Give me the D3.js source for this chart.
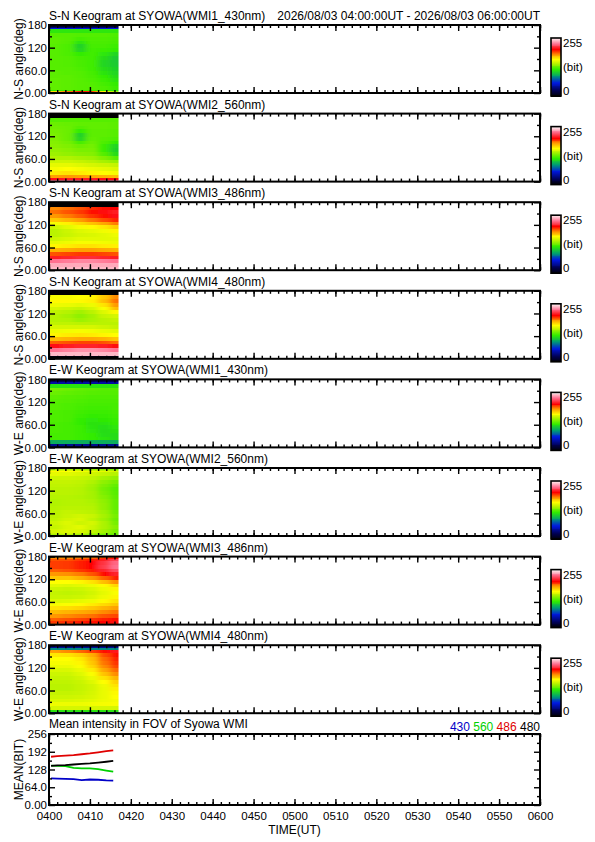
<!DOCTYPE html>
<html><head><meta charset="utf-8">
<script src="https://cdn.jsdelivr.net/npm/d3@7"></script>
<style>
body{margin:0;background:#fff}
svg text{font-family:"Liberation Sans",Arial,Helvetica,sans-serif;fill:#000}
</style>
</head><body>
<svg id="chart" width="595" height="842"></svg>
<script>
// ---------------- DATA ----------------
const panelTitles = [
  "S-N Keogram at SYOWA(WMI1_430nm)",
  "S-N Keogram at SYOWA(WMI2_560nm)",
  "S-N Keogram at SYOWA(WMI3_486nm)",
  "S-N Keogram at SYOWA(WMI4_480nm)",
  "E-W Keogram at SYOWA(WMI1_430nm)",
  "E-W Keogram at SYOWA(WMI2_560nm)",
  "E-W Keogram at SYOWA(WMI3_486nm)",
  "E-W Keogram at SYOWA(WMI4_480nm)"
];
const periodLabel = "2026/08/03 04:00:00UT - 2026/08/03 06:00:00UT";
const angleTitles = ["N-S angle(deg)","N-S angle(deg)","N-S angle(deg)","N-S angle(deg)",
                     "W-E angle(deg)","W-E angle(deg)","W-E angle(deg)","W-E angle(deg)"];
// angle bin edges (deg), bottom to top
const angleEdges = [0,3,6,10,20,30,40,50,60,70,80,90,100,110,120,130,140,150,160,170,174,177,180];
// time bin edges, minutes after 04:00 UT
const timeEdges = [0,3,6,9,12,15,17];
const angleTicks = [0,60,120,180];
const angleTickLabels = ["0.00","60.0","120","180"];
const angleMinorTicks = [30,90,150];
const colorbarLabels = ["255","(bit)","0"];

// keogram intensities (bit), rows = angle bins (bottom->top), cols = time bins
const kSN430 = [
  [15,15,15,15,15,15],
  [170,190,205,200,165,140],
  [118,120,120,120,118,115],
  [128,127,126,125,124,120],
  [128,127,126,125,122,118],
  [128,127,126,124,120,115],
  [127,127,125,123,118,112],
  [127,126,125,122,115,110],
  [126,126,124,121,112,108],
  [126,125,123,121,110,106],
  [126,125,123,121,110,105],
  [126,125,122,121,112,106],
  [126,124,118,121,116,110],
  [126,124,110,121,120,118],
  [126,124,108,122,122,120],
  [127,125,115,123,123,122],
  [127,126,122,124,124,123],
  [126,126,125,125,125,124],
  [116,116,116,116,116,116],
  [60,60,60,60,60,60],
  [30,30,30,30,30,30],
  [15,15,15,15,15,15]
];
const kSN560 = [
  [245,245,245,245,245,245],
  [232,232,232,232,232,232],
  [210,212,212,212,210,208],
  [182,184,182,180,178,176],
  [166,168,166,164,162,160],
  [160,162,160,158,156,154],
  [156,156,154,152,150,148],
  [150,150,148,146,142,138],
  [144,144,142,140,134,126],
  [140,138,136,135,125,112],
  [138,136,133,133,120,108],
  [136,134,130,132,120,110],
  [135,132,122,130,124,118],
  [134,130,110,128,126,124],
  [133,130,108,127,127,126],
  [132,130,118,127,127,126],
  [131,130,125,128,128,127],
  [130,129,128,128,128,127],
  [126,126,126,126,126,126],
  [0,0,0,0,0,0],
  [0,0,0,0,0,0],
  [0,0,0,0,0,0]
];
const kSN486 = [
  [250,250,250,250,250,250],
  [248,248,248,248,248,248],
  [245,245,245,245,245,245],
  [242,242,242,242,242,242],
  [232,234,236,236,234,232],
  [212,214,216,216,214,212],
  [194,196,198,198,196,194],
  [178,180,182,182,180,178],
  [164,166,168,168,166,165],
  [156,158,160,160,159,158],
  [150,153,155,155,155,156],
  [146,149,152,153,155,158],
  [146,150,154,156,159,164],
  [150,155,160,163,167,173],
  [160,165,170,175,181,188],
  [174,178,183,189,195,201],
  [184,188,193,199,205,210],
  [190,194,198,204,208,212],
  [186,190,194,200,204,207],
  [0,0,0,0,0,0],
  [0,0,0,0,0,0],
  [0,0,0,0,0,0]
];
const kSN480 = [
  [0,0,0,0,0,0],
  [0,0,0,0,0,0],
  [5,5,5,5,5,5],
  [245,245,245,245,245,245],
  [232,235,238,238,236,232],
  [210,212,214,214,212,208],
  [192,194,196,196,194,190],
  [176,178,180,180,178,174],
  [164,166,167,166,164,162],
  [158,159,160,159,157,155],
  [152,152,152,152,150,148],
  [147,147,146,146,146,146],
  [145,144,140,143,146,148],
  [145,142,137,142,149,152],
  [147,145,141,146,154,163],
  [152,150,148,152,161,176],
  [158,157,155,158,168,184],
  [163,163,163,165,176,190],
  [160,160,162,164,174,186],
  [0,0,0,0,0,0],
  [0,0,0,0,0,0],
  [0,0,0,0,0,0]
];
const kEW430 = [
  [20,20,20,20,20,20],
  [25,25,25,25,25,25],
  [40,40,40,40,40,40],
  [95,95,95,95,95,95],
  [122,122,120,118,115,112],
  [122,122,120,118,113,112],
  [123,122,120,116,112,114],
  [123,122,120,115,113,116],
  [123,122,118,114,115,118],
  [124,123,118,116,117,119],
  [124,123,120,118,119,120],
  [124,123,121,120,120,121],
  [125,124,122,121,121,122],
  [125,124,123,122,122,122],
  [126,125,124,123,123,123],
  [127,126,125,124,124,124],
  [130,128,127,126,125,125],
  [132,130,128,127,126,126],
  [115,115,115,115,115,115],
  [45,45,45,45,45,45],
  [28,28,28,28,28,28],
  [25,25,25,25,25,25]
];
const kEW560 = [
  [135,135,130,128,125,122],
  [142,144,140,136,130,128],
  [148,151,148,142,136,130],
  [151,154,153,148,141,132],
  [148,153,155,150,143,135],
  [150,154,150,152,143,132],
  [147,151,153,147,140,130],
  [146,149,151,149,142,132],
  [146,148,147,146,140,130],
  [145,146,146,145,138,128],
  [144,145,145,144,138,128],
  [144,145,145,143,137,128],
  [145,145,144,142,135,127],
  [146,146,145,142,133,126],
  [146,146,145,141,132,125],
  [147,147,146,142,134,128],
  [148,148,147,144,137,132],
  [150,150,149,147,142,138],
  [156,155,153,151,148,145],
  [164,162,160,158,156,152],
  [152,152,150,148,146,142],
  [142,142,140,138,136,132]
];
const kEW486 = [
  [105,105,105,105,105,105],
  [194,196,198,199,201,203],
  [198,200,203,205,207,209],
  [192,194,196,199,202,204],
  [184,186,188,190,194,196],
  [176,178,180,182,186,189],
  [168,169,171,174,178,182],
  [160,161,163,166,170,174],
  [153,154,156,158,163,168],
  [149,149,150,153,158,164],
  [148,147,148,151,156,161],
  [150,149,150,153,158,164],
  [155,154,155,158,163,171],
  [162,162,164,168,176,186],
  [174,174,178,184,192,202],
  [184,185,188,194,206,214],
  [192,194,198,202,214,224],
  [197,198,202,207,220,232],
  [197,198,202,207,218,230],
  [194,194,198,202,212,222],
  [187,187,190,192,200,207],
  [182,182,184,187,192,197]
];
const kEW480 = [
  [30,30,30,30,30,30],
  [60,60,60,60,60,60],
  [115,115,115,115,115,115],
  [152,152,152,152,152,152],
  [158,158,158,159,160,161],
  [153,153,154,155,158,160],
  [150,150,151,153,157,162],
  [148,148,149,152,157,163],
  [146,146,148,151,157,165],
  [146,146,148,151,158,168],
  [147,147,149,154,162,172],
  [148,148,151,157,168,178],
  [150,150,154,161,175,186],
  [153,153,157,166,181,191],
  [157,157,161,171,186,196],
  [160,160,164,174,189,199],
  [162,162,166,176,191,201],
  [167,168,172,180,195,205],
  [182,186,191,197,205,211],
  [85,85,85,85,85,85],
  [40,40,40,40,40,40],
  [28,28,28,28,28,28]
];
const keograms = [kSN430,kSN560,kSN486,kSN480,kEW430,kEW560,kEW486,kEW480];

// mean intensity panel
const meanTitle = "Mean intensity in FOV of Syowa WMI";
const meanMinutes = [0.5,2,4,6,8,10,12,14,15.7];
const mean430 = [96,95,94,93,90,92,91,89,88];
const mean560 = [142,141,140,134,132,132,129,124,120];
const mean486 = [174,176,178,180,183,186,190,194,197];
const mean480 = [141,143,144,146,148,150,153,156,159];
const meanTicks = [0,64,128,192,256];
const meanTickLabels = ["0.00","64.0","128","192","256"];
const meanMinorTicks = [32,96,160,224];
const legendLabels = ["430","560","486","480"];
const timeTitle = "TIME(UT)";
const meanAxisTitle = "MEAN(BIT)";

// palette (value -> colour)
const paletteStops = [0,25,60,90,118,148,162,184,206,232,255];
const paletteColors = ["#000000","#000050","#0018e0","#00a070","#30ec00","#c4f400","#ffff00","#ff9800","#ff0000","#ff7090","#fff2f2"];
const lineColors = ["#0000c8","#00d000","#e00000","#000000"];

// ---------------- DRAW ----------------
const svg = d3.select("#chart");
const defs = svg.append("defs");
defs.append("filter").attr("id","smooth")
  .attr("x","-10%").attr("y","-10%").attr("width","120%").attr("height","120%")
  .append("feGaussianBlur").attr("stdDeviation","3 0.7");

const L = 49, R = 540;
const t0 = Date.UTC(2026,7,3,4,0,0), t1 = Date.UTC(2026,7,3,6,0,0);
const toDate = m => new Date(t0 + m*60000);
const x = d3.scaleUtc().domain([new Date(t0), new Date(t1)]).range([L, R]);
const color = d3.scaleLinear().domain(paletteStops).range(paletteColors)
  .interpolate(d3.interpolateRgb).clamp(true);

const majorTimes = d3.utcMinute.every(10).range(new Date(t0), new Date(t1 + 1));
const minorTimes = d3.utcMinute.every(2).range(new Date(t0), new Date(t1 + 1));
const FS = 12;

function frameAxes(g, y, ticks, minor, labels, top, bottom, showX) {
  g.append("g").attr("transform",`translate(0,${bottom})`)
    .call(d3.axisBottom(x).tickValues(minorTimes).tickSize(-3).tickFormat(""));
  g.append("g").attr("transform",`translate(0,${top})`)
    .call(d3.axisTop(x).tickValues(minorTimes).tickSize(-3).tickFormat(""));
  g.append("g").attr("transform",`translate(0,${top})`)
    .call(d3.axisTop(x).tickValues(majorTimes).tickSize(-6).tickFormat(""));
  const bx = g.append("g").attr("transform",`translate(0,${bottom})`)
    .call(d3.axisBottom(x).tickValues(majorTimes).tickSize(-6).tickPadding(7)
      .tickFormat(showX ? d3.utcFormat("%H%M") : ""));
  bx.selectAll("text").attr("font-size", 11.5);
  const ly = g.append("g").attr("transform",`translate(${L},0)`)
    .call(d3.axisLeft(y).tickValues(ticks).tickSize(-6).tickPadding(2)
      .tickFormat((d,i) => labels[i]));
  ly.selectAll("text").attr("font-size", 11.5);
  g.append("g").attr("transform",`translate(${L},0)`)
    .call(d3.axisLeft(y).tickValues(minor).tickSize(-3).tickFormat(""));
  g.append("g").attr("transform",`translate(${R},0)`)
    .call(d3.axisRight(y).tickValues(ticks).tickSize(-6).tickFormat(""));
  g.append("g").attr("transform",`translate(${R},0)`)
    .call(d3.axisRight(y).tickValues(minor).tickSize(-3).tickFormat(""));
  g.selectAll(".domain").remove();
  g.selectAll(".tick line").attr("stroke","#000").attr("stroke-width",1.4);
  g.append("rect").attr("x",L).attr("y",top).attr("width",R-L).attr("height",bottom-top)
    .attr("fill","none").attr("stroke","#000").attr("stroke-width",2);
}

const pitch = 88.6, h = 68, pad = 12;
keograms.forEach((grid, i) => {
  const top = 25 + i*pitch, bottom = top + h;
  const y = d3.scaleLinear().domain([0,180]).range([bottom, top]);
  const g = svg.append("g");
  const xEnd = x(toDate(timeEdges[timeEdges.length-1]));
  defs.append("clipPath").attr("id","clip"+i).append("rect")
    .attr("x", L).attr("y", top).attr("width", xEnd - L).attr("height", h);
  const cells = g.append("g").attr("clip-path",`url(#clip${i})`)
    .append("g").attr("filter","url(#smooth)");
  const nc = timeEdges.length - 1, nr = angleEdges.length - 1;
  grid.forEach((row, r) => {
    row.forEach((v, c) => {
      // outer cells are extended beyond the clip so the smoothing does not fade at the edges
      const xa = x(toDate(timeEdges[c])) - (c === 0 ? pad : 0);
      const xb = x(toDate(timeEdges[c+1])) + (c === nc-1 ? pad : 0.6);
      const ya = y(angleEdges[r+1]) - (r === nr-1 ? 4 : 0);
      const yb = y(angleEdges[r]) + (r === 0 ? 4 : 0.6);
      cells.append("rect").attr("x", xa).attr("y", ya)
        .attr("width", xb - xa).attr("height", yb - ya)
        .attr("fill", color(v)).attr("shape-rendering","crispEdges");
    });
  });
  frameAxes(g, y, angleTicks, angleMinorTicks, angleTickLabels, top, bottom, false);
  g.append("text").attr("x", L).attr("y", top - 5).attr("font-size", FS).text(panelTitles[i]);
  if (i === 0) g.append("text").attr("x", R).attr("y", top - 5).attr("text-anchor","end")
    .attr("font-size", FS).text(periodLabel);
  g.append("text").attr("transform",`translate(23,${(top+bottom)/2}) rotate(-90)`)
    .attr("text-anchor","middle").attr("font-size", FS).text(angleTitles[i]);
  const cbTop = top + 13, cbBot = top + 71;
  const cb = d3.scaleLinear().domain([0,255]).range([cbBot, cbTop]);
  d3.range(0, 256, 4).forEach(v => {
    g.append("rect").attr("x", 551).attr("width", 10)
      .attr("y", cb(Math.min(v+4,255))).attr("height", cb(v) - cb(Math.min(v+4,255)) + 0.5)
      .attr("fill", color(v+2)).attr("shape-rendering","crispEdges");
  });
  g.append("rect").attr("x",551).attr("y",cbTop).attr("width",10).attr("height",cbBot-cbTop)
    .attr("fill","none").attr("stroke","#000").attr("stroke-width",1.6);
  const cbY = [cb(255)+5, (cbTop+cbBot)/2, cb(0)-5];
  colorbarLabels.forEach((t,k) => g.append("text").attr("x",563).attr("y",cbY[k])
    .attr("dy","0.35em").attr("font-size",11.5).text(t));
});

{
  const top = 734, bottom = 805;
  const y = d3.scaleLinear().domain([0,256]).range([bottom, top]);
  const g = svg.append("g");
  const series = [mean430, mean560, mean486, mean480];
  const line = d3.line().x((d,k) => x(toDate(meanMinutes[k]))).y(d => y(d));
  series.forEach((s, k) => {
    g.append("path").datum(s).attr("d", line).attr("fill","none")
      .attr("stroke", lineColors[k]).attr("stroke-width", 1.8);
  });
  frameAxes(g, y, meanTicks, meanMinorTicks, meanTickLabels, top, bottom, true);
  g.append("text").attr("x", L).attr("y", top - 6).attr("font-size", FS).text(meanTitle);
  const lg = g.append("text").attr("x", R).attr("y", top - 3).attr("text-anchor","end").attr("font-size", FS);
  legendLabels.forEach((t,k) => lg.append("tspan").attr("fill", lineColors[k]).text((k? " ":"") + t));
  g.append("text").attr("transform",`translate(23,${(top+bottom)/2}) rotate(-90)`)
    .attr("text-anchor","middle").attr("font-size", FS).text(meanAxisTitle);
  g.append("text").attr("x", (L+R)/2).attr("y", 834).attr("text-anchor","middle")
    .attr("font-size", FS).text(timeTitle);
}
</script>
</body></html>
